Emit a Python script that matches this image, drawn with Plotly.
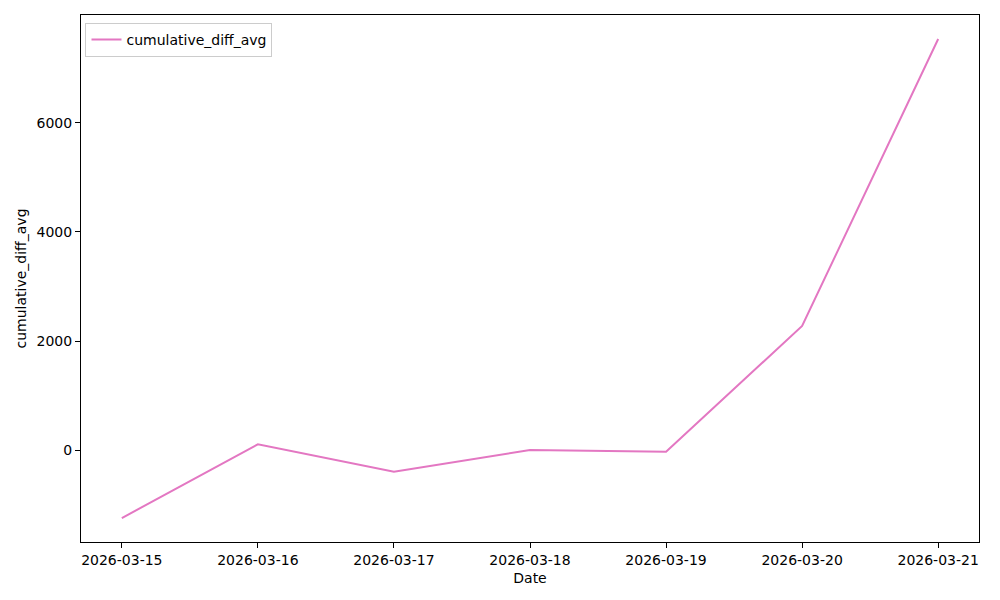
import pandas as pd
import plotly.graph_objects as go

LINE_COLOUR = "#e377c2"
FONT = "DejaVu Sans"

dates = ["2026-03-15", "2026-03-16", "2026-03-17", "2026-03-18",
         "2026-03-19", "2026-03-20", "2026-03-21"]
cumulative_diff_avg = [-1248, 104, -398, 0, -31, 2275, 7541]

x = pd.to_datetime(dates)
y_lo, y_hi = min(cumulative_diff_avg), max(cumulative_diff_avg)
y_pad = (y_hi - y_lo) * 0.05
x_pad = (x[-1] - x[0]) * 0.05

fig = go.Figure()
fig.add_trace(
    go.Scatter(
        x=x,
        y=cumulative_diff_avg,
        mode="lines",
        name="cumulative_diff_avg",
        line=dict(color=LINE_COLOUR, width=2),
    )
)

axis_common = dict(
    showgrid=False,
    zeroline=False,
    showline=True,
    linecolor="black",
    linewidth=1,
    mirror=True,
    ticks="outside",
    ticklen=5,
    tickwidth=1,
    tickcolor="black",
    tickfont=dict(family=FONT, size=14, color="black"),
)

# page body has an 8px margin, so the figure is sized to fit the window
fig.update_layout(
    width=992,
    height=592,
    plot_bgcolor="white",
    paper_bgcolor="white",
    font=dict(family=FONT, size=14, color="black"),
    margin=dict(l=73, r=21, t=7, b=58),
    showlegend=True,
    legend=dict(
        x=0.005,
        y=0.985,
        xanchor="left",
        yanchor="top",
        bgcolor="rgba(255,255,255,0.8)",
        bordercolor="#cccccc",
        borderwidth=1,
        font=dict(family=FONT, size=14, color="black"),
    ),
    xaxis=dict(
        axis_common,
        type="date",
        range=[x[0] - x_pad, x[-1] + x_pad],
        dtick=86400000,
        tick0="2026-03-15",
        tickformat="%Y-%m-%d",
        title=dict(text="Date", standoff=6, font=dict(family=FONT, size=14)),
    ),
    yaxis=dict(
        axis_common,
        range=[y_lo - y_pad, y_hi + y_pad],
        tickvals=[0, 2000, 4000, 6000],
        title=dict(text="cumulative_diff_avg", standoff=6, font=dict(family=FONT, size=14)),
    ),
)

fig.write_html("out.html")
